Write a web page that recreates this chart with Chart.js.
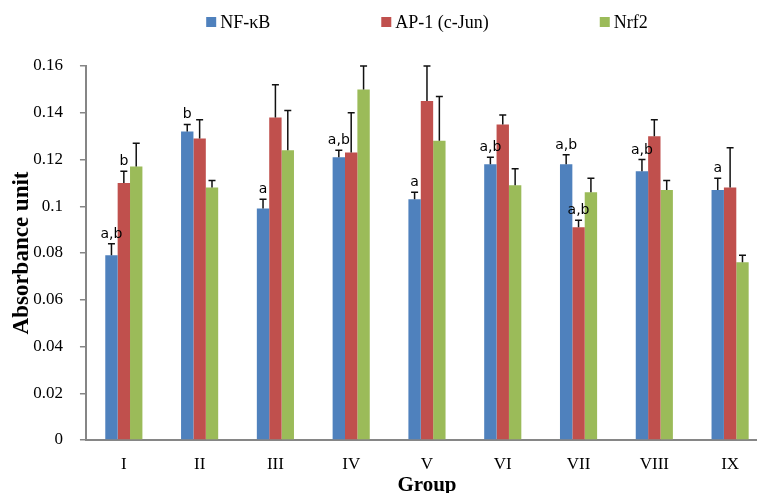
<!DOCTYPE html>
<html>
<head>
<meta charset="utf-8">
<script src="https://cdn.jsdelivr.net/npm/chart.js@4.4.0/dist/chart.umd.min.js"></script>
<style>
  html, body { margin: 0; padding: 0; background: #fff; overflow: hidden; }
  #wrap { width: 757px; height: 493px; overflow: hidden; }
</style>
</head>
<body>
<div id="wrap"><canvas id="chart" width="770" height="498"></canvas></div>
<script>
const groups = ["I", "II", "III", "IV", "V", "VI", "VII", "VIII", "IX"];
const seriesNames = ["NF-\u03BAB", "AP-1 (c-Jun)", "Nrf2"];

const nfkb = [0.079, 0.132, 0.099, 0.121, 0.103, 0.118, 0.118, 0.115, 0.107];
const ap1 = [0.110, 0.129, 0.138, 0.123, 0.145, 0.135, 0.091, 0.130, 0.108];
const nrf2 = [0.117, 0.108, 0.124, 0.150, 0.128, 0.109, 0.106, 0.107, 0.076];

const nfkbErr = [0.005, 0.003, 0.004, 0.003, 0.003, 0.003, 0.004, 0.005, 0.005];
const ap1Err = [0.005, 0.008, 0.014, 0.017, 0.015, 0.004, 0.003, 0.007, 0.017];
const nrf2Err = [0.010, 0.003, 0.017, 0.010, 0.019, 0.007, 0.006, 0.004, 0.003];

const nfkbSig = ["a,b", "b", "a", "a,b", "a", "a,b", "a,b", "a,b", "a"];
const ap1Sig = ["b", "", "", "", "", "", "a,b", "", ""];
const nrf2Sig = ["", "", "", "", "", "", "", "", ""];

const yTickLabels = ["0", "0.02", "0.04", "0.06", "0.08", "0.1", "0.12", "0.14", "0.16"];

const colors = ["#4F81BD", "#C0504D", "#9BBB59"];
const serif = "'Liberation Serif', 'Times New Roman', serif";

// error bars + significance letters on top of each bar
const errorBars = {
  id: "errorBars",
  afterDatasetsDraw(chart) {
    const ctx = chart.ctx;
    const y = chart.scales.y;
    chart.data.datasets.forEach((ds, di) => {
      const meta = chart.getDatasetMeta(di);
      meta.data.forEach((bar, i) => {
        const top = y.getPixelForValue(ds.data[i] + ds.errors[i]);
        ctx.save();
        ctx.strokeStyle = "#111";
        ctx.lineWidth = 1.5;
        ctx.beginPath();
        ctx.moveTo(bar.x, bar.y);
        ctx.lineTo(bar.x, top);
        ctx.moveTo(bar.x - 3.5, top);
        ctx.lineTo(bar.x + 3.5, top);
        ctx.stroke();
        if (ds.sig[i]) {
          ctx.fillStyle = "#000";
          ctx.font = "14px 'DejaVu Sans', sans-serif";
          ctx.textAlign = "center";
          ctx.textBaseline = "alphabetic";
          ctx.fillText(ds.sig[i], bar.x, top - 6);
        }
        ctx.restore();
      });
    });
  }
};

// legend spread out like the original
const wideLegend = {
  id: "wideLegend",
  afterDraw(chart) {
    const ctx = chart.ctx;
    const area = chart.chartArea;
    const gap = 111, box = 10;
    ctx.save();
    ctx.font = "18px " + serif;
    const widths = chart.data.datasets.map(ds => ctx.measureText(ds.label).width);
    let total = 0;
    widths.forEach((w, i) => { total += box + 4 + w + (i < widths.length - 1 ? gap : 0); });
    let x = (area.left + area.right) / 2 - total / 2;
    const yMid = 22;
    chart.data.datasets.forEach((ds, i) => {
      ctx.fillStyle = ds.backgroundColor;
      ctx.fillRect(x, yMid - 5, box, box);
      ctx.fillStyle = "#000";
      ctx.textBaseline = "middle";
      ctx.fillText(ds.label, x + box + 4, yMid + 1);
      x += box + 4 + widths[i] + gap;
    });
    ctx.restore();
  }
};

new Chart(document.getElementById("chart"), {
  type: "bar",
  data: {
    labels: groups,
    datasets: [
      {label: seriesNames[0], data: nfkb, errors: nfkbErr, sig: nfkbSig, backgroundColor: colors[0]},
      {label: seriesNames[1], data: ap1, errors: ap1Err, sig: ap1Sig, backgroundColor: colors[1]},
      {label: seriesNames[2], data: nrf2, errors: nrf2Err, sig: nrf2Sig, backgroundColor: colors[2]},
    ],
  },
  options: {
    responsive: false,
    animation: false,
    devicePixelRatio: 1,
    layout: {padding: {top: 66, right: 2, left: 0, bottom: 0}},
    datasets: {bar: {categoryPercentage: 0.49, barPercentage: 1}},
    plugins: {
      legend: {display: false},
      tooltip: {enabled: false},
    },
    scales: {
      x: {
        grid: {display: false, drawTicks: false},
        border: {display: true, color: "#868686", width: 2},
        ticks: {padding: 14, color: "#000", font: {family: serif, size: 17}},
        title: {
          display: true,
          text: "Group",
          color: "#000",
          padding: {top: -15.6, bottom: 0},
          font: {family: serif, size: 21, weight: "bold"},
        },
      },
      y: {
        min: 0,
        max: 0.16,
        grid: {drawOnChartArea: false, drawTicks: true, tickLength: 6, color: "#868686", lineWidth: 1.5},
        border: {display: true, color: "#868686", width: 2},
        ticks: {
          stepSize: 0.02,
          padding: 17,
          color: "#000",
          font: {family: serif, size: 17},
          callback: (v, i) => yTickLabels[i],
        },
        title: {
          display: true,
          text: "Absorbance unit",
          color: "#000",
          padding: {top: 8, bottom: -19.4},
          font: {family: serif, size: 23, weight: "bold"},
        },
      },
    },
  },
  plugins: [errorBars, wideLegend],
});
</script>
</body>
</html>
